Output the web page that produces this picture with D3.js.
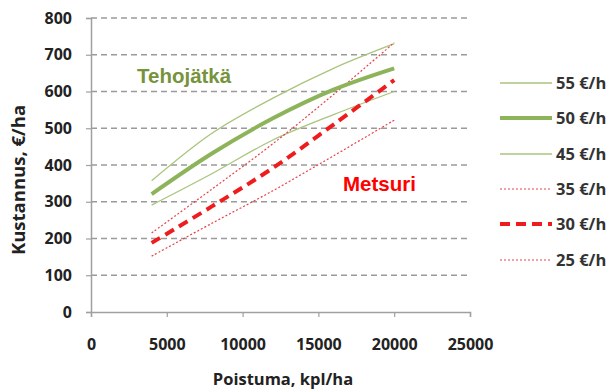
<!DOCTYPE html>
<html><head><meta charset="utf-8">
<script src="https://cdn.jsdelivr.net/npm/d3@7"></script>
<style>body{margin:0;background:#fff}svg{display:block}</style>
</head><body>
<svg id="c" width="614" height="392"></svg>
<script>
const xValues = [4000, 8000, 12000, 16000, 20000];
const s55 = [357, 487, 582, 663, 730];
const s50 = [321, 432, 527, 605, 663];
const s45 = [291, 377, 468, 537, 600];
const s35 = [215, 335, 458, 592, 733];
const s30 = [188, 288, 392, 510, 631];
const s25 = [152, 242, 330, 425, 522];
const seriesNames = ["55 €/h", "50 €/h", "45 €/h", "35 €/h", "30 €/h", "25 €/h"];
const yTicks = [0, 100, 200, 300, 400, 500, 600, 700, 800];
const xTicks = [0, 5000, 10000, 15000, 20000, 25000];

const styles = [
  {color:"#a9c47c", w:1.3, dash:null},
  {color:"#8db45a", w:4, dash:null},
  {color:"#a9c47c", w:1.3, dash:null},
  {color:"#e4424a", w:1.2, dash:"2,2"},
  {color:"#ee1c1c", w:4, dash:"10,6"},
  {color:"#e4424a", w:1.2, dash:"2,2"}
];
const allSeries = [s55, s50, s45, s35, s30, s25];

const svg = d3.select("#c");
const x = d3.scaleLinear().domain([0, 25000]).range([91, 470]);
const y = d3.scaleLinear().domain([0, 800]).range([312, 18]);

// gridlines
svg.append("g").selectAll("line").data(yTicks.filter(d => d > 0)).join("line")
  .attr("x1", x(0)).attr("x2", x(25000))
  .attr("y1", d => y(d)).attr("y2", d => y(d))
  .attr("stroke", "#9a9a9a").attr("stroke-width", 1.6).attr("stroke-dasharray", "6,4");

// y axis
const ya = svg.append("g").attr("transform", `translate(${x(0)},0)`)
  .call(d3.axisLeft(y).tickValues(yTicks).tickSize(5).tickPadding(14).tickFormat(d3.format("d")));
ya.select(".domain").attr("stroke", "#a0a0a0").attr("stroke-width", 1.5);
ya.selectAll(".tick line").attr("stroke", "#a0a0a0").attr("stroke-width", 1.2);
ya.selectAll("text").attr("font-family", "Open Sans").attr("font-weight", "bold")
  .attr("font-size", 16).attr("fill", "#222");

// x axis
const xa = svg.append("g").attr("transform", `translate(0,${y(0)})`)
  .call(d3.axisBottom(x).tickValues(xTicks).tickSize(5).tickPadding(22).tickFormat(d3.format("d")));
xa.select(".domain").attr("stroke", "#a0a0a0").attr("stroke-width", 1.5);
xa.selectAll(".tick line").attr("stroke", "#a0a0a0").attr("stroke-width", 1.2);
xa.selectAll("text").attr("font-family", "Open Sans").attr("font-weight", "bold")
  .attr("font-size", 16).attr("fill", "#222");

// lines
const line = d3.line().x((d, i) => x(xValues[i])).y(d => y(d)).curve(d3.curveCatmullRom.alpha(0.5));
const order = [0, 2, 3, 5, 1, 4];
order.forEach(k => {
  const st = styles[k];
  svg.append("path").datum(allSeries[k]).attr("d", line)
    .attr("fill", "none").attr("stroke", st.color).attr("stroke-width", st.w)
    .attr("stroke-dasharray", st.dash).attr("stroke-linecap", "butt");
});

// legend
const lg = svg.append("g");
seriesNames.forEach((n, k) => {
  const ly = Math.round(83 + k * 35.3);
  const st = styles[k];
  lg.append("line").attr("x1", 500).attr("x2", 552).attr("y1", ly).attr("y2", ly)
    .attr("stroke", st.color).attr("stroke-width", st.w).attr("stroke-dasharray", st.dash);
  lg.append("text").attr("x", 556).attr("y", ly + 6).text(n)
    .attr("font-family", "Open Sans").attr("font-weight", "bold").attr("font-size", 16.5)
    .attr("fill", "#333");
});

// annotations
svg.append("text").attr("x", 137).attr("y", 83).text("Tehojätkä")
  .attr("font-family", "Liberation Sans").attr("font-weight", "bold").attr("font-size", 20.5)
  .attr("fill", "#77933c");
svg.append("text").attr("x", 343).attr("y", 191).text("Metsuri")
  .attr("font-family", "Liberation Sans").attr("font-weight", "bold").attr("font-size", 20.5)
  .attr("fill", "#ff0000");

// axis titles
svg.append("text").attr("x", 283).attr("y", 385).attr("text-anchor", "middle")
  .text("Poistuma, kpl/ha").attr("font-family", "Open Sans").attr("font-weight", "bold")
  .attr("font-size", 16.5).attr("fill", "#222");
svg.append("text").attr("transform", "translate(25,180) rotate(-90)").attr("text-anchor", "middle")
  .text("Kustannus, €/ha").attr("font-family", "Open Sans").attr("font-weight", "bold")
  .attr("font-size", 18.5).attr("fill", "#222");
</script>
</body></html>
